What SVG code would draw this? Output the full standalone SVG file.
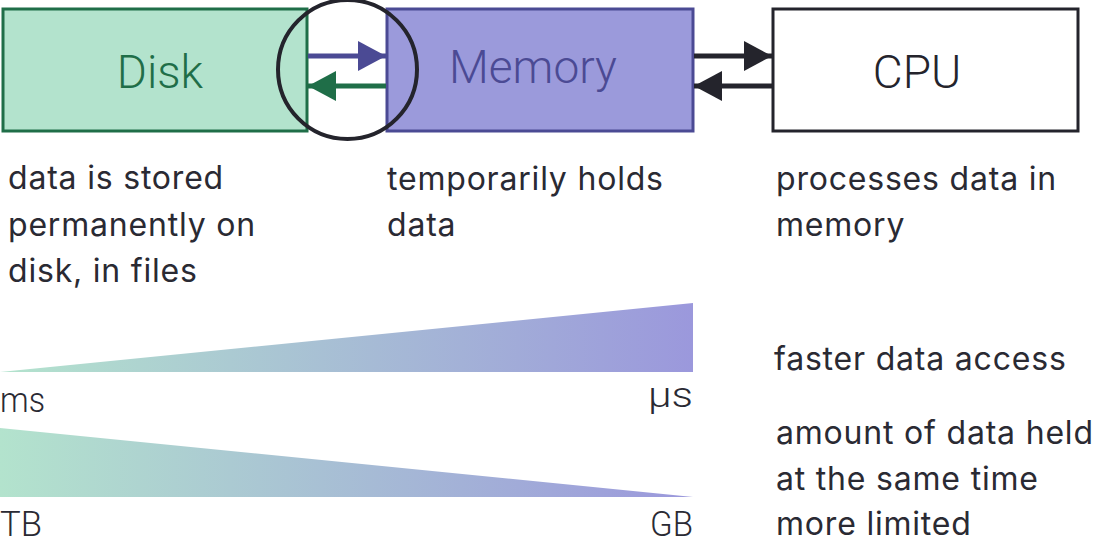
<svg xmlns="http://www.w3.org/2000/svg" width="1098" height="539" viewBox="0 0 1098 539">
<style>
.body{font-family:Inter,"Noto Sans",sans-serif;font-size:32px;letter-spacing:0.8px;fill:#2a2a33}
.lbl{font-family:Roboto,"Liberation Sans",sans-serif;font-size:46px;font-weight:300}
.unit{font-family:Roboto,"Liberation Sans",sans-serif;font-size:35px;fill:#2a2a33;font-weight:300}
</style>
<defs>
<linearGradient id="g" x1="0" y1="0" x2="693" y2="0" gradientUnits="userSpaceOnUse">
<stop offset="0" stop-color="#b3e3cd"/>
<stop offset="1" stop-color="#9b98dc"/>
</linearGradient>
<marker id="ap" viewBox="0 0 28 30" refX="28" refY="15" markerWidth="28" markerHeight="30" markerUnits="userSpaceOnUse" orient="auto"><path d="M0,0 L28,15 L0,30 Z" fill="#4b4a94"/></marker>
<marker id="ag" viewBox="0 0 28 30" refX="28" refY="15" markerWidth="28" markerHeight="30" markerUnits="userSpaceOnUse" orient="auto"><path d="M0,0 L28,15 L0,30 Z" fill="#1f6e48"/></marker>
<marker id="ak" viewBox="0 0 28 30" refX="28" refY="15" markerWidth="28" markerHeight="30" markerUnits="userSpaceOnUse" orient="auto"><path d="M0,0 L28,15 L0,30 Z" fill="#24242c"/></marker>
</defs>
<g id="disk">
<rect x="3" y="9" width="304" height="122" fill="#b3e3cd" stroke="#1f6e48" stroke-width="3"/>
<text x="160" y="88" text-anchor="middle" class="lbl" fill="#1f6e48">Disk</text>
</g>
<g id="memory">
<rect x="387" y="9" width="306" height="122" fill="#9b9adb" stroke="#4b4a94" stroke-width="3"/>
<text x="533" y="83" text-anchor="middle" class="lbl" fill="#4b4a94">Memory</text>
</g>
<g id="cpu">
<rect x="773" y="9" width="305" height="122" fill="#ffffff" stroke="#24242c" stroke-width="3"/>
<text x="917" y="88" text-anchor="middle" class="lbl" fill="#24242c">CPU</text>
</g>
<g id="connectors" stroke-width="5" fill="none">
<line x1="308" y1="56" x2="386" y2="56" stroke="#4b4a94" marker-end="url(#ap)"/>
<line x1="386" y1="86" x2="308" y2="86" stroke="#1f6e48" marker-end="url(#ag)"/>
<line x1="694" y1="56" x2="772" y2="56" stroke="#24242c" marker-end="url(#ak)"/>
<line x1="772" y1="86" x2="694" y2="86" stroke="#24242c" marker-end="url(#ak)"/>
</g>
<g id="highlight">
<circle cx="347.5" cy="69.5" r="69.5" fill="none" stroke="#24242c" stroke-width="4"/>
</g>
<g id="descriptions">
<text class="body" x="8" y="189">data is stored</text>
<text class="body" x="8" y="236">permanently on</text>
<text class="body" x="8" y="282">disk, in files</text>
<text class="body" x="387" y="190">temporarily holds</text>
<text class="body" x="387" y="236">data</text>
<text class="body" x="776" y="190">processes data in</text>
<text class="body" x="776" y="236">memory</text>
</g>
<g id="speed">
<polygon points="0,372 693,303 693,372" fill="url(#g)"/>
<text class="unit" x="0" y="412" textLength="45" lengthAdjust="spacingAndGlyphs">ms</text>
<text class="unit" x="648" y="407" textLength="45" lengthAdjust="spacingAndGlyphs">μs</text>
<text class="body" x="774" y="370">faster data access</text>
</g>
<g id="capacity">
<polygon points="0,428 0,497 693,497" fill="url(#g)"/>
<text class="unit" x="0" y="536" textLength="42" lengthAdjust="spacingAndGlyphs">TB</text>
<text class="unit" x="650" y="536" textLength="43" lengthAdjust="spacingAndGlyphs">GB</text>
<text class="body" x="776" y="444">amount of data held</text>
<text class="body" x="776" y="490">at the same time</text>
<text class="body" x="776" y="535">more limited</text>
</g>
</svg>
